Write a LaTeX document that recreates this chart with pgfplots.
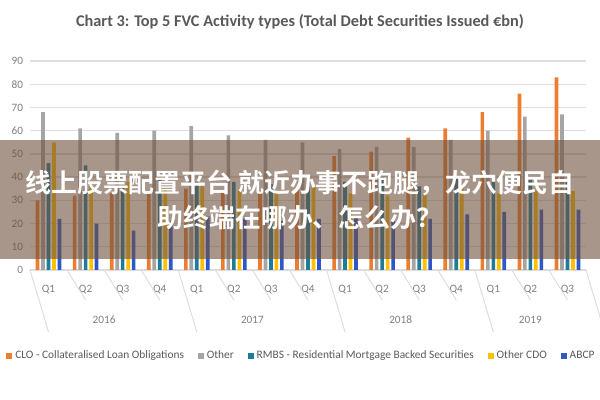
\documentclass[border=0pt]{standalone}
\usepackage{pgfplots}
\pgfplotsset{compat=1.18}
\usepackage{pgfplotstable}
\usepackage{fontspec}
\setmainfont{Carlito}
\newfontfamily\cjk{Noto Sans CJK SC}[BoldFont={Noto Sans CJK SC Bold}]
\definecolor{cCLO}{HTML}{ED7D31}
\definecolor{cOther}{HTML}{A5A5A5}
\definecolor{cRMBS}{HTML}{1E7B9A}
\definecolor{cOCDO}{HTML}{FFC000}
\definecolor{cABCP}{HTML}{2E58C8}
\definecolor{gridc}{HTML}{DDDDDD}
\definecolor{txt}{HTML}{7F7F7F}
\definecolor{ttl}{HTML}{595959}
\pgfplotstableread{
x CLO Other RMBS OCDO ABCP
0 30 68 46 55 22
1 32 61 45 36 20
2 33 59 36 38 17
3 34 60 39 35 21
4 35 62 38 36 23
5 34 58 38 34 22
6 34 56 37 34 21
7 35 55 40 36 22
8 49 52 38 33 23
9 51 53 40 32 21
10 57 53 36 33 22
11 61 56 40 37 24
12 68 60 38 33 25
13 76 66 40 34 26
14 83 67 38 34 26
}\datatable
\begin{document}
\begin{tikzpicture}
\useasboundingbox (0,0) rectangle (15,10);
\node[font=\fontsize{11.6}{13}\selectfont\bfseries, text=ttl] at (7.5,9.45) {Chart 3: Top 5 FVC Activity types (Total Debt Securities Issued €bn)};
\begin{axis}[
  at={(0.75cm,3.25cm)}, anchor=south west,
  width=13.9cm, height=5.225cm, scale only axis,
  ybar=1.3pt, bar width=2.6pt,
  xmin=-0.5, xmax=14.5, ymin=0, ymax=90,
  ytick={0,10,...,90},
  xtick={0,...,14},
  xticklabels={Q1,Q2,Q3,Q4,Q1,Q2,Q3,Q4,Q1,Q2,Q3,Q4,Q1,Q2,Q3},
  major tick length=0pt,
  axis line style={draw=none},
  ymajorgrids, major grid style={draw=gridc, line width=0.9pt},
  /pgf/number format/assume math mode=true,
  tick label style={font=\fontsize{8}{9}\selectfont, text=txt},
  xticklabel style={anchor=center, yshift=-0.5cm},
  yticklabel style={xshift=-0.05cm},
  clip=false,
  legend columns=-1,
  legend style={at={(0.489,-0.411)}, anchor=center, draw=none, fill=none,
    font=\fontsize{8.1}{9}\selectfont, text=ttl,
    /tikz/every even column/.append style={column sep=8pt},
    inner sep=0pt},
  legend image code/.code={\fill[#1] (0cm,-0.07cm) rectangle (0.15cm,0.08cm);},
]
\addplot[fill=cCLO, draw=none] table[x=x, y=CLO] {\datatable};
\addplot[fill=cOther, draw=none] table[x=x, y=Other] {\datatable};
\addplot[fill=cRMBS, draw=none] table[x=x, y=RMBS] {\datatable};
\addplot[fill=cOCDO, draw=none] table[x=x, y=OCDO] {\datatable};
\addplot[fill=cABCP, draw=none] table[x=x, y=ABCP] {\datatable};
\legend{CLO - Collateralised Loan Obligations, Other, RMBS - Residential Mortgage Backed Securities, Other CDO, ABCP}
\pgfplotsinvokeforeach{0.5,1.5,2.5,4.5,5.5,6.5,8.5,9.5,10.5,12.5,13.5}{
  \draw[gridc, line width=0.7pt] (axis cs:#1,0) -- ++(0,-0.75cm);
}
\pgfplotsinvokeforeach{-0.5,3.5,7.5,11.5,14.5}{
  \draw[gridc, line width=0.7pt] (axis cs:#1,0) -- ++(0,-1.55cm);
}
\node[font=\fontsize{8}{9}\selectfont, text=txt] at (axis cs:1.5,0) [yshift=-1.25cm] {2016};
\node[font=\fontsize{8}{9}\selectfont, text=txt] at (axis cs:5.5,0) [yshift=-1.25cm] {2017};
\node[font=\fontsize{8}{9}\selectfont, text=txt] at (axis cs:9.5,0) [yshift=-1.25cm] {2018};
\node[font=\fontsize{8}{9}\selectfont, text=txt] at (axis cs:13,0) [yshift=-1.25cm] {2019};
\end{axis}
\fill[fill={rgb,255:red,110;green,80;blue,60}, fill opacity=0.6] (0,3.525) rectangle (15,6.5);
\node[text=white, font=\cjk\bfseries\fontsize{18.4}{20}\selectfont] at (7.5,5.425) {线上股票配置平台 就近办事不跑腿，龙穴便民自};
\node[text=white, font=\cjk\bfseries\fontsize{18.4}{20}\selectfont] at (7.5,4.55) {助终端在哪办、怎么办？};
\end{tikzpicture}
\end{document}
